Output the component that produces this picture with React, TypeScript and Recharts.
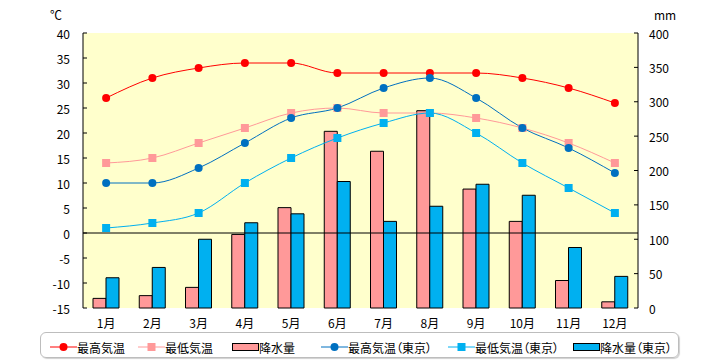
import React from "react";
import {
  ComposedChart,
  Bar,
  Line,
  XAxis,
  YAxis,
  CartesianGrid,
  ReferenceLine,
} from "recharts";

const months = ["1月", "2月", "3月", "4月", "5月", "6月", "7月", "8月", "9月", "10月", "11月", "12月"];
const maxTemp = [27, 31, 33, 34, 34, 32, 32, 32, 32, 31, 29, 26];
const minTemp = [14, 15, 18, 21, 24, 25, 24, 24, 23, 21, 18, 14];
const rain = [14, 18, 30, 107, 146, 257, 228, 287, 173, 126, 40, 9];
const maxTempTokyo = [10, 10, 13, 18, 23, 25, 29, 31, 27, 21, 17, 12];
const minTempTokyo = [1, 2, 4, 10, 15, 19, 22, 24, 20, 14, 9, 4];
const rainTokyo = [44, 59, 100, 124, 137, 184, 126, 148, 180, 164, 88, 46];

const leftTicks = [-15, -10, -5, 0, 5, 10, 15, 20, 25, 30, 35, 40];
const rightTicks = [0, 50, 100, 150, 200, 250, 300, 350, 400];

const data = months.map((m, i) => ({
  month: m,
  maxTemp: maxTemp[i],
  minTemp: minTemp[i],
  rain: rain[i],
  maxTempTokyo: maxTempTokyo[i],
  minTempTokyo: minTempTokyo[i],
  rainTokyo: rainTokyo[i],
}));

const FONT = '"Noto Sans CJK JP", "Noto Sans", sans-serif';

const legendItems = [
  { name: "最高気温", kind: "circle", color: "#FF0000", left: 50 },
  { name: "最低気温", kind: "square", color: "#FF9999", left: 138 },
  { name: "降水量", kind: "bar", color: "#FF9999", left: 232 },
  { name: "最高気温（東京）", kind: "circle", color: "#0070C0", left: 321 },
  { name: "最低気温（東京）", kind: "square", color: "#00B0F0", left: 448 },
  { name: "降水量（東京）", kind: "bar", color: "#00B0F0", left: 573 },
];

const SquareDot = (props: any) => {
  const { cx, cy, fill } = props;
  if (cx == null || cy == null) return null;
  return <rect x={cx - 4} y={cy - 4} width={8} height={8} fill={fill} />;
};

const LeftTick = (props: any) => {
  const { x, y, payload } = props;
  return (
    <g>
      <line x1={x} x2={x + 4} y1={y} y2={y} stroke="#000" />
      <text x={x - 13} y={y} textAnchor="end" dominantBaseline="central" fontSize={12} fontFamily={FONT} fill="#000">
        {payload.value}
      </text>
    </g>
  );
};

const RightTick = (props: any) => {
  const { x, y, payload } = props;
  return (
    <g>
      <line x1={x - 4} x2={x} y1={y} y2={y} stroke="#000" />
      <text x={x + 11} y={y} textAnchor="start" dominantBaseline="central" fontSize={12} fontFamily={FONT} fill="#000">
        {payload.value}
      </text>
    </g>
  );
};

const BottomTick = (props: any) => {
  const { x, y, payload } = props;
  return (
    <text x={x} y={y + 12} textAnchor="middle" dominantBaseline="central" fontSize={12} fontFamily={FONT} fill="#000">
      {payload.value}
    </text>
  );
};

const LegendIcon = ({ kind, color }: { kind: string; color: string }) => {
  if (kind === "bar") {
    return (
      <svg width={27} height={12} style={{ display: "block" }}>
        <rect x={0.5} y={2.5} width={26} height={7} fill={color} stroke="#000" strokeWidth={1} />
      </svg>
    );
  }
  return (
    <svg width={27} height={12} style={{ display: "block" }}>
      <line x1={0} x2={27} y1={6} y2={6} stroke={color} strokeWidth={1} />
      {kind === "circle" ? (
        <circle cx={13.5} cy={6} r={4} fill={color} />
      ) : (
        <rect x={9.5} y={2} width={8} height={8} fill={color} />
      )}
    </svg>
  );
};

export default function App() {
  return (
    <div style={{ position: "absolute", left: 0, top: 0, width: 720, height: 360, background: "#fff", fontFamily: FONT }}>
      <div style={{ position: "absolute", left: 50, top: 6, fontSize: 12, color: "#000" }}>℃</div>
      <div style={{ position: "absolute", left: 654, top: 6, fontSize: 12, color: "#000" }}>mm</div>
      <ComposedChart
        width={720}
        height={330}
        data={data}
        margin={{ top: 33, right: 0, bottom: 0, left: 0 }}
        barSize={13}
        barGap={0}
      >
        <CartesianGrid fill="#FFFFCC" stroke="none" horizontal={false} vertical={false} />
        <XAxis
          dataKey="month"
          height={22}
          axisLine={false}
          tickLine={false}
          tickSize={0}
          tick={<BottomTick />}
          interval={0}
        />
        <YAxis
          yAxisId="left"
          orientation="left"
          width={83}
          domain={[-15, 40]}
          ticks={leftTicks}
          interval={0}
          tickSize={0}
          tickMargin={0}
          tickLine={false}
          axisLine={{ stroke: "#000" }}
          tick={<LeftTick />}
        />
        <YAxis
          yAxisId="right"
          orientation="right"
          width={82}
          domain={[0, 400]}
          ticks={rightTicks}
          interval={0}
          tickSize={0}
          tickMargin={0}
          tickLine={false}
          axisLine={{ stroke: "#000" }}
          tick={<RightTick />}
        />
        <Bar yAxisId="right" dataKey="rain" name="降水量" fill="#FF9999" stroke="#000" strokeWidth={1} isAnimationActive={false} />
        <Bar yAxisId="right" dataKey="rainTokyo" name="降水量（東京）" fill="#00B0F0" stroke="#000" strokeWidth={1} isAnimationActive={false} />
        <ReferenceLine yAxisId="left" y={0} stroke="#000" strokeWidth={1} />
        <Line
          yAxisId="left"
          type="monotone"
          dataKey="minTemp"
          name="最低気温"
          stroke="#FF9999"
          strokeWidth={1}
          dot={<SquareDot fill="#FF9999" />}
          isAnimationActive={false}
        />
        <Line
          yAxisId="left"
          type="monotone"
          dataKey="maxTemp"
          name="最高気温"
          stroke="#FF0000"
          strokeWidth={1}
          dot={{ r: 4, fill: "#FF0000", stroke: "none" }}
          isAnimationActive={false}
        />
        <Line
          yAxisId="left"
          type="monotone"
          dataKey="minTempTokyo"
          name="最低気温（東京）"
          stroke="#00B0F0"
          strokeWidth={1}
          dot={<SquareDot fill="#00B0F0" />}
          isAnimationActive={false}
        />
        <Line
          yAxisId="left"
          type="monotone"
          dataKey="maxTempTokyo"
          name="最高気温（東京）"
          stroke="#0070C0"
          strokeWidth={1}
          dot={{ r: 4, fill: "#0070C0", stroke: "none" }}
          isAnimationActive={false}
        />
      </ComposedChart>
      <div
        style={{
          position: "absolute",
          left: 40,
          top: 332,
          width: 637,
          height: 24,
          border: "1px solid #BDBDBD",
          borderRadius: 6,
          boxShadow: "1px 1px 1px #D0D0D0",
        }}
      />
      {legendItems.map((it) => (
        <div
          key={it.name}
          style={{
            position: "absolute",
            left: it.left,
            top: 338,
            height: 18,
            display: "flex",
            alignItems: "center",
            fontSize: 12,
            color: "#000",
            whiteSpace: "nowrap",
            fontFeatureSettings: '"palt"',
          }}
        >
          <LegendIcon kind={it.kind} color={it.color} />
          <span>{it.name}</span>
        </div>
      ))}
    </div>
  );
}
